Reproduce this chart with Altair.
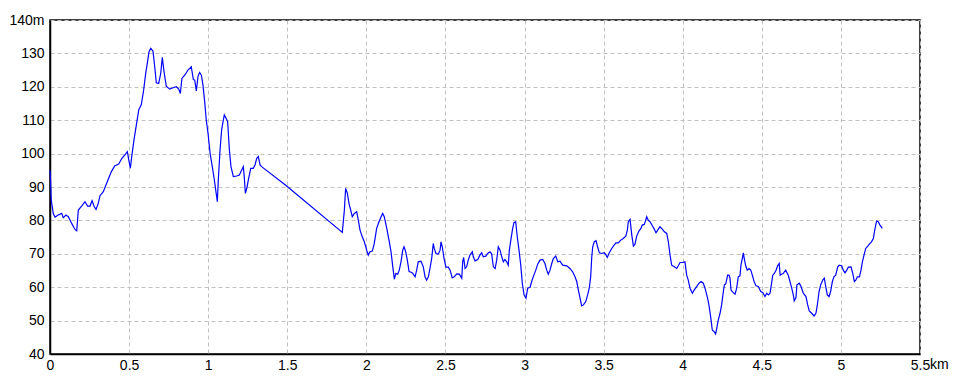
import altair as alt
import pandas as pd

# distance along the route (km)
dist_km = [
    0.000, 0.003, 0.008, 0.021, 0.032, 0.052, 0.074, 0.084, 0.101, 0.116,
    0.137, 0.158, 0.169, 0.179, 0.200, 0.221, 0.238, 0.253, 0.266, 0.280,
    0.291, 0.305, 0.316, 0.337, 0.362, 0.388, 0.409, 0.434, 0.455, 0.476,
    0.489, 0.498, 0.508, 0.518, 0.531, 0.546, 0.561, 0.577, 0.592, 0.605,
    0.615, 0.626, 0.637, 0.651, 0.662, 0.672, 0.687, 0.700, 0.710, 0.721,
    0.735, 0.757, 0.778, 0.798, 0.814, 0.824, 0.834, 0.855, 0.872, 0.893,
    0.906, 0.915, 0.925, 0.936, 0.946, 0.957, 0.967, 0.978, 0.988, 0.999,
    1.012, 1.026, 1.039, 1.049, 1.058, 1.064, 1.075, 1.085, 1.096, 1.102,
    1.113, 1.123, 1.134, 1.144, 1.159, 1.180, 1.197, 1.212, 1.222, 1.228,
    1.235, 1.244, 1.254, 1.269, 1.285, 1.296, 1.307, 1.317, 1.328, 1.338,
    1.496, 1.848, 1.861, 1.869, 1.880, 1.890, 1.901, 1.911, 1.924, 1.939,
    1.949, 1.960, 1.974, 1.987, 2.002, 2.012, 2.023, 2.038, 2.050, 2.065,
    2.080, 2.093, 2.103, 2.113, 2.129, 2.143, 2.156, 2.167, 2.177, 2.186,
    2.198, 2.208, 2.219, 2.230, 2.238, 2.249, 2.259, 2.270, 2.287, 2.297,
    2.308, 2.318, 2.328, 2.345, 2.360, 2.371, 2.381, 2.392, 2.402, 2.413,
    2.423, 2.429, 2.440, 2.455, 2.466, 2.472, 2.480, 2.491, 2.503, 2.518,
    2.529, 2.543, 2.556, 2.571, 2.588, 2.603, 2.609, 2.615, 2.624, 2.634,
    2.644, 2.655, 2.670, 2.676, 2.687, 2.704, 2.718, 2.729, 2.739, 2.755,
    2.767, 2.782, 2.792, 2.803, 2.814, 2.824, 2.834, 2.845, 2.856, 2.866,
    2.876, 2.887, 2.897, 2.904, 2.914, 2.925, 2.933, 2.944, 2.954, 2.965,
    2.976, 2.986, 2.997, 3.009, 3.020, 3.035, 3.045, 3.055, 3.071, 3.083,
    3.098, 3.115, 3.129, 3.140, 3.150, 3.161, 3.172, 3.182, 3.197, 3.210,
    3.224, 3.241, 3.267, 3.287, 3.304, 3.319, 3.330, 3.340, 3.351, 3.361,
    3.372, 3.387, 3.399, 3.409, 3.418, 3.425, 3.431, 3.441, 3.452, 3.462,
    3.473, 3.488, 3.502, 3.513, 3.523, 3.536, 3.551, 3.566, 3.578, 3.593,
    3.608, 3.624, 3.640, 3.650, 3.656, 3.667, 3.678, 3.688, 3.698, 3.709,
    3.723, 3.736, 3.744, 3.757, 3.766, 3.772, 3.782, 3.793, 3.808, 3.820,
    3.831, 3.842, 3.856, 3.871, 3.884, 3.899, 3.909, 3.920, 3.930, 3.947,
    3.962, 3.972, 3.983, 3.997, 4.014, 4.025, 4.035, 4.046, 4.061, 4.073,
    4.088, 4.103, 4.116, 4.130, 4.141, 4.152, 4.162, 4.172, 4.179, 4.187,
    4.198, 4.208, 4.215, 4.225, 4.236, 4.246, 4.257, 4.263, 4.272, 4.284,
    4.293, 4.299, 4.305, 4.316, 4.331, 4.341, 4.351, 4.362, 4.368, 4.377,
    4.383, 4.389, 4.398, 4.408, 4.419, 4.430, 4.440, 4.451, 4.463, 4.478,
    4.493, 4.506, 4.520, 4.531, 4.541, 4.552, 4.562, 4.569, 4.579, 4.590,
    4.600, 4.610, 4.616, 4.624, 4.635, 4.651, 4.667, 4.678, 4.689, 4.699,
    4.705, 4.716, 4.722, 4.737, 4.748, 4.762, 4.779, 4.790, 4.800, 4.815,
    4.830, 4.842, 4.851, 4.862, 4.872, 4.885, 4.895, 4.904, 4.914, 4.925,
    4.935, 4.946, 4.956, 4.967, 4.980, 4.990, 5.005, 5.015, 5.026, 5.037,
    5.047, 5.064, 5.075, 5.085, 5.094, 5.104, 5.117, 5.127, 5.136, 5.146,
    5.157, 5.170, 5.180, 5.193, 5.205, 5.212, 5.220, 5.226, 5.236, 5.247,
    5.262,
]

# elevation (m)
elev_m = [
    95.0, 92.5, 86.0, 82.0, 81.0, 81.6, 82.1, 80.8, 81.6, 81.1,
    79.1, 77.3, 76.9, 83.1, 84.3, 85.6, 84.3, 84.3, 85.9, 84.1,
    83.3, 85.1, 87.4, 88.6, 91.6, 94.6, 96.3, 96.9, 98.6, 99.8,
    100.6, 98.1, 95.6, 99.6, 104.1, 108.6, 113.1, 114.6, 119.0, 124.0,
    127.0, 130.5, 131.5, 130.7, 126.0, 121.2, 121.0, 124.0, 128.8, 124.5,
    120.2, 119.3, 119.7, 120.0, 119.3, 118.0, 122.5, 123.7, 125.0, 126.0,
    122.2, 122.0, 118.8, 123.2, 124.3, 123.5, 120.5, 115.5, 110.0, 106.1,
    100.1, 96.1, 92.1, 88.6, 85.6, 92.1, 101.1, 107.1, 110.1, 111.6,
    110.6, 109.6, 101.1, 96.1, 93.1, 93.3, 93.6, 95.1, 96.1, 93.1,
    88.1, 89.6, 92.1, 95.6, 95.6, 96.6, 98.6, 99.1, 96.6, 96.1,
    90.3, 76.4, 83.1, 89.6, 88.1, 85.1, 83.1, 81.1, 82.1, 82.6,
    80.1, 77.1, 75.1, 73.6, 71.1, 69.6, 70.6, 70.8, 73.1, 77.6,
    79.6, 81.1, 82.1, 81.1, 77.6, 74.1, 70.6, 66.1, 62.4, 64.1,
    63.9, 65.1, 67.6, 71.1, 72.1, 70.6, 68.1, 64.7, 64.4, 63.9,
    63.1, 65.1, 67.6, 67.8, 66.1, 63.1, 62.1, 63.1, 65.6, 68.6,
    73.1, 71.6, 70.1, 69.9, 71.1, 73.6, 72.1, 68.6, 66.0, 66.0,
    65.1, 62.8, 63.1, 64.0, 63.9, 62.7, 67.6, 68.9, 65.6, 66.1,
    68.1, 69.6, 70.6, 69.1, 67.9, 68.3, 69.6, 70.3, 69.1, 69.3,
    70.1, 70.6, 70.0, 66.1, 65.6, 68.1, 72.1, 71.1, 69.1, 67.6,
    68.3, 67.6, 66.6, 71.1, 74.3, 77.6, 79.3, 79.6, 75.1, 71.1,
    66.6, 61.1, 57.7, 56.7, 59.7, 60.0, 61.7, 63.1, 65.1, 66.9,
    68.1, 68.3, 67.1, 65.1, 63.9, 65.1, 67.1, 68.6, 69.3, 67.6,
    67.8, 66.6, 66.4, 65.6, 64.6, 63.1, 61.7, 59.2, 56.7, 54.4,
    54.7, 55.7, 57.7, 59.7, 63.1, 69.1, 72.1, 73.6, 73.9, 72.1,
    70.3, 70.1, 70.3, 69.8, 68.9, 70.3, 71.6, 72.6, 73.3, 73.3,
    74.1, 74.6, 75.3, 77.1, 79.6, 80.3, 75.6, 72.3, 72.9, 75.3,
    76.8, 77.6, 78.6, 78.8, 80.1, 81.1, 80.1, 79.6, 78.4, 77.4,
    76.3, 77.1, 78.1, 77.4, 76.6, 76.1, 73.6, 69.6, 66.6, 66.1,
    65.6, 66.4, 67.4, 67.4, 67.6, 63.6, 62.1, 59.7, 58.2, 59.2,
    60.2, 61.2, 61.7, 61.2, 59.7, 57.7, 55.7, 52.7, 50.2, 47.2,
    46.7, 46.0, 47.7, 50.2, 52.2, 54.7, 58.7, 60.7, 61.0, 63.6,
    63.6, 62.7, 59.2, 58.5, 57.9, 59.7, 63.1, 63.4, 66.6, 68.6,
    70.3, 68.6, 66.4, 65.1, 65.6, 65.1, 63.6, 61.7, 60.4, 60.2,
    58.7, 58.4, 57.2, 58.2, 57.7, 58.2, 61.2, 63.6, 64.1, 65.1,
    66.4, 67.1, 63.6, 63.9, 64.1, 65.1, 63.6, 61.7, 59.7, 57.7,
    55.9, 56.9, 60.7, 61.2, 60.2, 58.2, 57.2, 54.7, 52.9, 52.2,
    51.4, 52.2, 54.7, 58.7, 60.7, 62.1, 62.7, 60.2, 57.7, 57.2,
    58.7, 61.7, 63.1, 63.6, 66.1, 66.6, 66.4, 65.1, 64.3, 65.1,
    66.0, 66.1, 64.1, 61.7, 62.1, 63.1, 63.1, 65.1, 67.6, 69.6,
    71.6, 72.3, 72.9, 73.6, 74.6, 76.6, 78.6, 79.8, 79.6, 78.6,
    77.6,
]

x_ticks = [0, 0.5, 1, 1.5, 2, 2.5, 3, 3.5, 4, 4.5, 5, 5.5]
y_ticks = [40, 50, 60, 70, 80, 90, 100, 110, 120, 130, 140]
x_unit = ["km"]

FONT = "Liberation Sans"
FS = 14

df = pd.DataFrame({"km": dist_km, "m": elev_m, "order": list(range(len(dist_km)))})
unit_df = pd.DataFrame({"km": [x_ticks[-1]], "m": [y_ticks[0]], "t": x_unit})

x_enc = alt.X(
    "km:Q",
    scale=alt.Scale(domain=[x_ticks[0], x_ticks[-1]], nice=False, zero=False),
    axis=alt.Axis(
        values=x_ticks, title=None, ticks=False, labelPadding=4,
        labelFlush=False, labelOverlap=False,
        labelExpr="'' + datum.value",
    ),
)
y_enc = alt.Y(
    "m:Q",
    scale=alt.Scale(domain=[y_ticks[0], y_ticks[-1]], nice=False, zero=False),
    axis=alt.Axis(
        values=y_ticks, title=None, ticks=False, labelPadding=6,
        labelFlush=False, labelOverlap=False,
        labelExpr="datum.value == 140 ? '140m' : '' + datum.value",
    ),
)

line = alt.Chart(df).mark_line(color="#0000ff", strokeWidth=1.2).encode(
    x=x_enc, y=y_enc, order="order:Q"
)

unit = alt.Chart(unit_df).mark_text(
    align="left", baseline="top", dx=10, dy=4, font=FONT, fontSize=FS, color="black"
).encode(x=x_enc, y=y_enc, text="t:N")

chart = (
    alt.layer(line, unit)
    .properties(
        width=870,
        height=334,
        padding={"left": 50, "top": 20, "right": 40, "bottom": 30},
        autosize=alt.AutoSizeParams(type="none"),
        background="white",
    )
    .configure_view(stroke="black", strokeWidth=1.5, fill="white")
    .configure_axis(
        domainColor="black",
        domainWidth=1.5,
        gridColor="#c0c0c0",
        gridDash=[4, 3],
        gridWidth=1,
        labelFont=FONT,
        labelFontSize=FS,
        labelColor="black",
    )
)

chart.save("out.html", embed_options={"renderer": "svg", "actions": False})
